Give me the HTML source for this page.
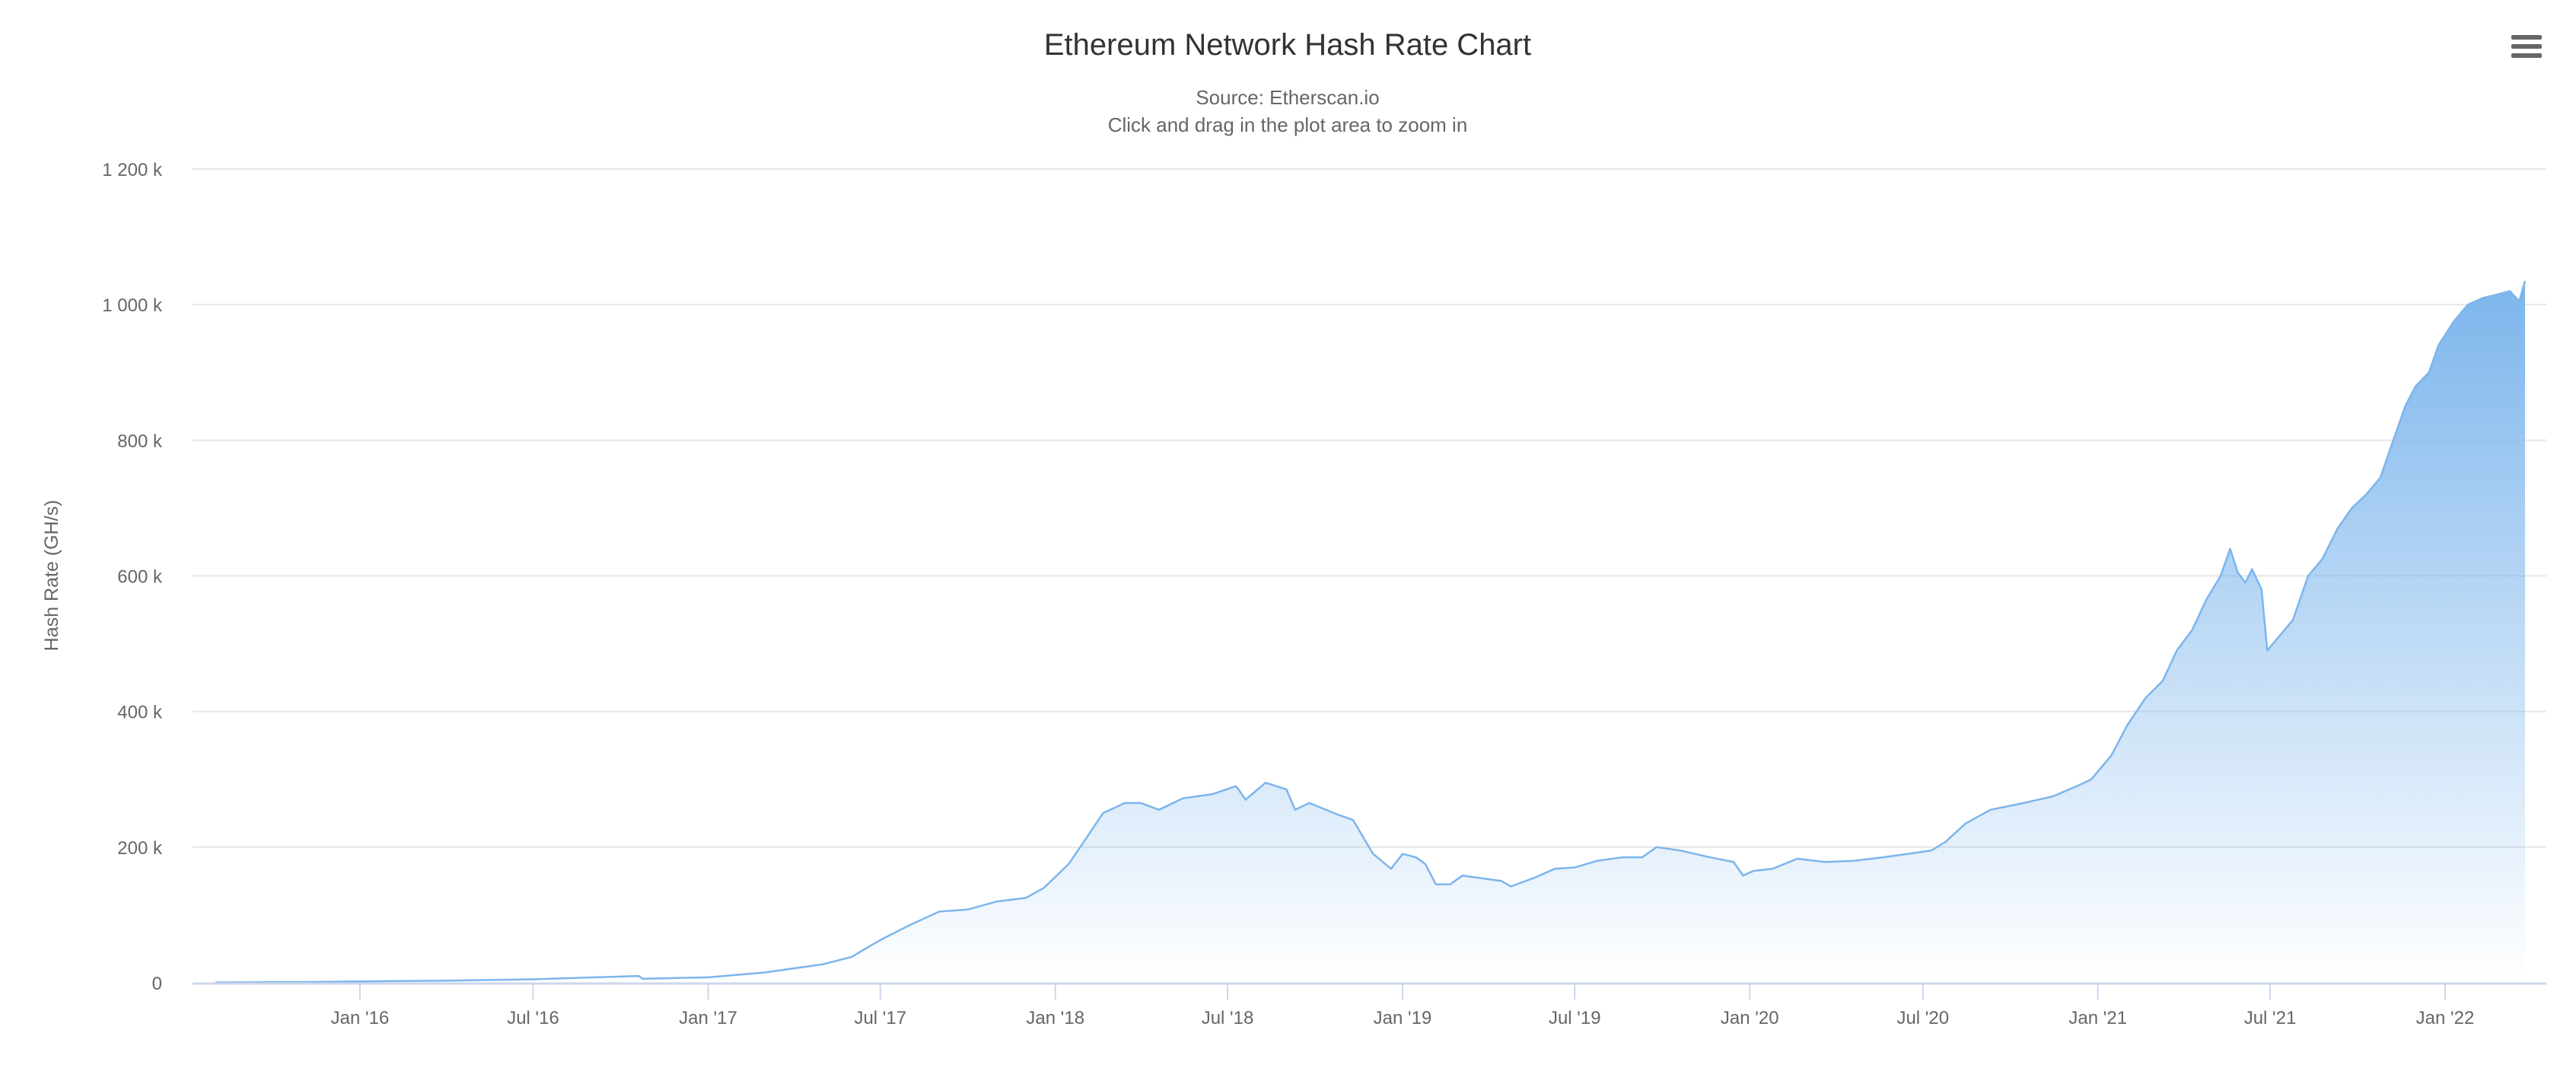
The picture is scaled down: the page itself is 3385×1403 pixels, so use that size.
<!DOCTYPE html>
<html><head><meta charset="utf-8"><title>Ethereum Network Hash Rate Chart</title>
<style>html,body{margin:0;padding:0;background:#fff;}svg{display:block;font-family:"Liberation Sans",sans-serif;}</style>
</head><body>
<svg id="chart" width="3385" height="1403" viewBox="0 0 3385 1403" xmlns="http://www.w3.org/2000/svg">
<defs><linearGradient id="fillGrad" x1="0" y1="0" x2="0" y2="1"><stop offset="0" stop-color="#7cb5ec" stop-opacity="1"/><stop offset="1" stop-color="#7cb5ec" stop-opacity="0"/></linearGradient></defs>
<text x="1692" y="72" text-anchor="middle" font-size="40" fill="#333333">Ethereum Network Hash Rate Chart</text>
<text x="1692" y="137" text-anchor="middle" font-size="26" fill="#666666">Source: Etherscan.io</text>
<text x="1692" y="173" text-anchor="middle" font-size="26" fill="#666666">Click and drag in the plot area to zoom in</text>
<g><rect x="3300" y="46" width="40" height="6" rx="2" fill="#666"/><rect x="3300" y="58" width="40" height="6" rx="2" fill="#666"/><rect x="3300" y="70" width="40" height="6" rx="2" fill="#666"/></g>
<text transform="translate(76,756) rotate(-90)" text-anchor="middle" font-size="25" fill="#666666">Hash Rate (GH/s)</text>
<g id="grid"></g><g id="series"></g><g id="axes"></g>
</svg>
<script>
const yTicks=[0,200,400,600,800,1000,1200];
const yTickLabels=["0","200 k","400 k","600 k","800 k","1 000 k","1 200 k"];
const xTickDates=["2016-01-01","2016-07-01","2017-01-01","2017-07-01","2018-01-01","2018-07-01","2019-01-01","2019-07-01","2020-01-01","2020-07-01","2021-01-01","2021-07-01","2022-01-01"];
const xTickLabels=["Jan '16","Jul '16","Jan '17","Jul '17","Jan '18","Jul '18","Jan '19","Jul '19","Jan '20","Jul '20","Jan '21","Jul '21","Jan '22"];
const dates=["2015-08-02","2015-11-01","2016-01-01","2016-04-01","2016-07-01","2016-10-20","2016-10-24","2017-01-01","2017-03-01","2017-05-01","2017-06-01","2017-06-15","2017-07-01","2017-08-01","2017-09-01","2017-10-01","2017-11-01","2017-12-01","2017-12-20","2018-01-15","2018-02-01","2018-02-20","2018-03-15","2018-04-01","2018-04-20","2018-05-15","2018-06-15","2018-07-10","2018-07-20","2018-08-10","2018-09-01","2018-09-10","2018-09-25","2018-10-25","2018-11-10","2018-12-01","2018-12-20","2019-01-01","2019-01-15","2019-01-25","2019-02-05","2019-02-20","2019-03-05","2019-04-15","2019-04-25","2019-05-20","2019-06-10","2019-07-01","2019-07-25","2019-08-20","2019-09-10","2019-09-25","2019-10-20","2019-11-20","2019-12-15","2019-12-25","2020-01-05","2020-01-25","2020-02-20","2020-03-20","2020-04-20","2020-05-20","2020-06-15","2020-07-10","2020-07-25","2020-08-15","2020-09-10","2020-10-15","2020-11-15","2020-12-10","2020-12-25","2021-01-15","2021-02-01","2021-02-20","2021-03-10","2021-03-25","2021-04-10","2021-04-25","2021-05-10","2021-05-20","2021-05-28","2021-06-05","2021-06-12","2021-06-22","2021-06-28","2021-07-10","2021-07-25","2021-08-10","2021-08-25","2021-09-10","2021-09-25","2021-10-10","2021-10-25","2021-11-05","2021-11-20","2021-12-01","2021-12-15","2021-12-25","2022-01-10","2022-01-25","2022-02-10","2022-02-25","2022-03-10","2022-03-20","2022-03-26"];
const hashRate=[0.5,1,2,3,5,10,6,8,15,27,38,50,63,85,105,108,120,125,140,175,210,250,265,265,255,272,278,290,270,295,285,255,265,248,240,190,168,190,185,175,145,145,158,150,142,155,168,170,180,185,185,200,195,185,178,158,165,168,183,178,180,185,190,195,208,235,255,265,275,290,300,335,380,420,445,490,520,565,600,640,605,590,610,580,490,510,535,600,625,670,700,720,745,790,850,880,900,940,975,1000,1010,1015,1020,1005,1035];

const NS="http://www.w3.org/2000/svg";
const plotL=253,plotR=3346,plotT=222,plotB=1291;
const t0=Date.UTC(2016,0,1),t1=Date.UTC(2022,0,1),x0=473,x1=3213;
function xPos(d){const t=Date.parse(d+"T00:00:00Z");return x0+(t-t0)/(t1-t0)*(x1-x0);}
function yPos(v){return plotB-(v/1200)*(plotB-plotT);}
function mk(tag,attrs,parent){const e=document.createElementNS(NS,tag);for(const k in attrs)e.setAttribute(k,attrs[k]);parent.appendChild(e);return e;}
const grid=document.getElementById('grid'),axes=document.getElementById('axes'),series=document.getElementById('series');
yTicks.forEach((v,i)=>{
  if(v>0){const l=mk('line',{x1:plotL,x2:plotR,y1:yPos(v),y2:yPos(v),stroke:'#e6e6e6','stroke-width':2},grid);
  
  }
  const t=mk('text',{x:213,y:yPos(v)+9,'text-anchor':'end','font-size':24,fill:'#666666'},axes);
  t.textContent=yTickLabels[i];
  
  
});
let pts=dates.map((d,i)=>[xPos(d),yPos(hashRate[i])]);
let dl="M"+pts.map(p=>p[0].toFixed(1)+","+p[1].toFixed(1)).join(" L");
const area=mk('path',{d:dl+` L${pts[pts.length-1][0].toFixed(1)},${plotB} L${pts[0][0].toFixed(1)},${plotB} Z`,fill:'url(#fillGrad)',stroke:'none'},series);


const line=mk('path',{d:dl,fill:'none',stroke:'#7cb5ec','stroke-width':2.5,'stroke-linejoin':'round'},series);


const ax=mk('line',{x1:plotL,x2:plotR,y1:plotB+1,y2:plotB+1,stroke:'#ccd6eb','stroke-width':3},axes);


xTickDates.forEach((d,i)=>{
  const x=xPos(d);
  const tk=mk('line',{x1:x,x2:x,y1:plotB,y2:plotB+22,stroke:'#ccd6eb','stroke-width':2},axes);
  
  
  const t=mk('text',{x:x,y:plotB+54,'text-anchor':'middle','font-size':24,fill:'#666666'},axes);
  t.textContent=xTickLabels[i];
  
  
});
</script>
</body></html>
